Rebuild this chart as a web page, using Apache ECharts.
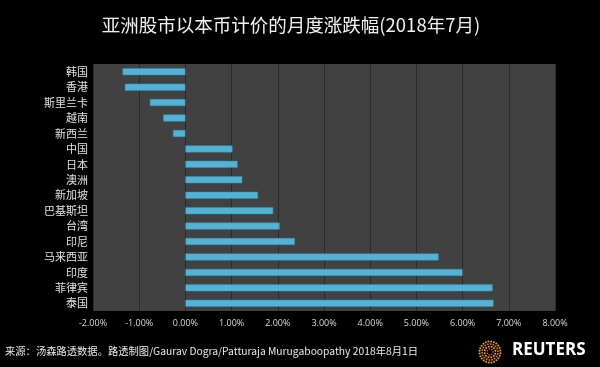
<!DOCTYPE html>
<html><head><meta charset="utf-8">
<script src="https://cdn.jsdelivr.net/npm/echarts@6/dist/echarts.min.js"></script>
<style>html,body{margin:0;padding:0;background:#000;}#c{width:600px;height:367px;}</style>
</head><body><div id="c"></div>
<script>
var categories = ['韩国','香港','斯里兰卡','越南','新西兰','中国','日本','澳洲','新加坡','巴基斯坦','台湾','印尼','马来西亚','印度','菲律宾','泰国'];
var values = [-1.36,-1.31,-0.77,-0.48,-0.27,1.02,1.13,1.23,1.57,1.90,2.04,2.37,5.48,6.00,6.65,6.67];
var xTicks = [-2,-1,0,1,2,3,4,5,6,7,8];

var chart = echarts.init(document.getElementById('c'), null, {renderer:'canvas'});
var font = '"Noto Sans CJK SC", "Open Sans", sans-serif';

var dots = [];
var cx = 490, cy = 352;
var rings = [[3,7],[5.5,12],[8,18],[10.5,24]];
rings.forEach(function(r, ri){
  for (var i=0;i<r[1];i++){
    var a = 2*Math.PI*i/r[1] + ri*0.3;
    dots.push({type:'circle', shape:{cx:cx+r[0]*Math.cos(a), cy:cy+r[0]*Math.sin(a), r: ri===0?0.8:1.0},
      style:{fill: ri%2? '#f0a030':'#d9741a'}});
  }
});

chart.setOption({
  backgroundColor:'#000',
  animation:false,
  title:{text:'亚洲股市以本币计价的月度涨跌幅(2018年7月)', left:286, textAlign:'center', top:11,
    textStyle:{color:'#f0f0f0', fontSize:18.5, fontWeight:'normal', fontFamily:font}},
  grid:{left:93, right:45, top:64, bottom:56, show:true, backgroundColor:'#414141', borderWidth:0},
  xAxis:{type:'value', min:xTicks[0], max:xTicks[xTicks.length-1], interval:1,
    axisLine:{show:false}, axisTick:{show:false},
    splitLine:{show:true, lineStyle:{color:'#2a2a2a', width:1}},
    axisLabel:{color:'#d8d8d8', fontSize:9, margin:8, fontFamily:'"Open Sans", sans-serif',
      formatter:function(v){return v.toFixed(2)+'%';}}},
  yAxis:{type:'category', data:categories, inverse:true,
    axisLine:{show:false}, axisTick:{show:false}, splitLine:{show:false},
    axisLabel:{color:'#e0e0e0', fontSize:11, margin:5, fontFamily:font}},
  series:[{type:'bar', data:values, barWidth:7,
    itemStyle:{color:'#52b3d6', borderColor:'#3a8fb0', borderWidth:0.5}}],
  graphic:[
    {type:'text', left:5, top:346, style:{text:'来源：汤森路透数据。路透制图/Gaurav Dogra/Patturaja Murugaboopathy 2018年8月1日',
      fill:'#e8e8e8', fontSize:10.3, fontFamily:font}},
    {type:'group', children:dots},
    {type:'text', left:512, top:342, style:{text:'REUTERS', fill:'#ffffff', fontSize:17, fontWeight:'bold',
      fontFamily:'"Open Sans", "Liberation Sans", sans-serif'}}
  ]
});
</script></body></html>
